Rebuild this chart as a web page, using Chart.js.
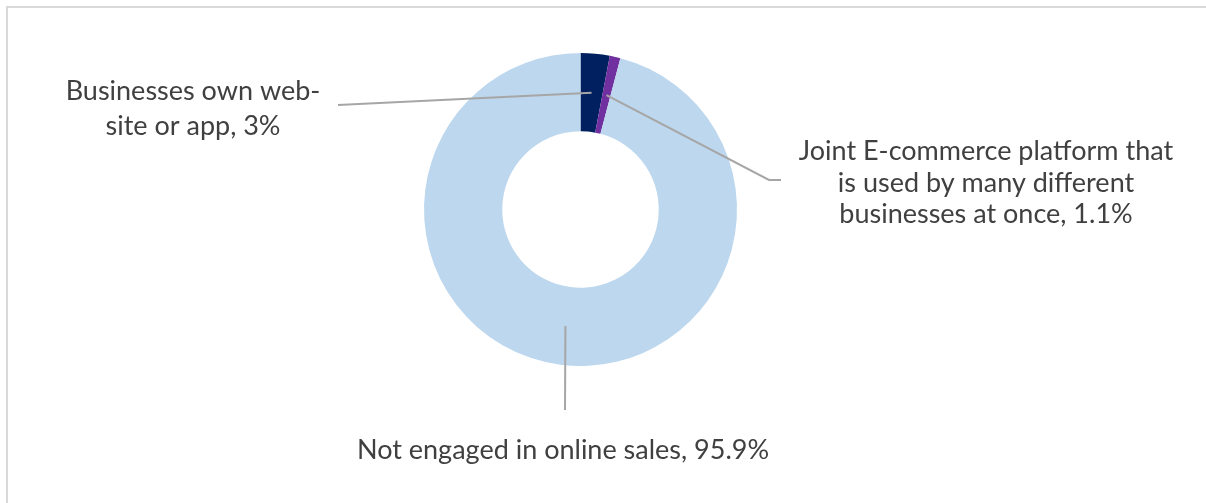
<!DOCTYPE html>
<html>
<head>
<meta charset="utf-8">
<script src="https://cdn.jsdelivr.net/npm/chart.js@4"></script>
<style>
  body { margin: 0; background: #fff; overflow: hidden; }
  #wrap { position: relative; width: 1206px; height: 503px; }
  #frame { position: absolute; left: 6px; top: 6px; width: 1300px; height: 600px; border: 2px solid #d9d9d9; }
  #myChart { position: absolute; left: 0; top: 0; }
</style>
</head>
<body>
<div id="wrap">
  <div id="frame"></div>
  <canvas id="myChart" width="1206" height="503"></canvas>
</div>
<script>
// дані
const categories = [
  "Businesses own web-site or app",
  "Joint E-commerce platform that is used by many different businesses at once",
  "Not engaged in online sales",
];
const shares = [3, 1.1, 95.9];
const shareLabels = ["3%", "1.1%", "95.9%"];
const labelLines = [
  ["Businesses own web-", "site or app, 3%"],
  ["Joint E-commerce platform that", "is used by many different", "businesses at once, 1.1%"],
  ["Not engaged in online sales, 95.9%"],
];
const sliceColors = ["#002060", "#7030a0", "#bdd7ee"];

// розташування підписів (центр тексту, базові лінії, кінці ліній-виносок)
const labelPlaces = [
  { x: 193, baselines: [100, 135], line: [[338, 105]] },
  { x: 986, baselines: [160, 192, 223], line: [[769, 180], [781, 180]] },
  { x: 563, baselines: [459], line: [[565, 410]] },
];

const leaderLabels = {
  id: "leaderLabels",
  afterDraw(chart) {
    const ctx = chart.ctx;
    const arcs = chart.getDatasetMeta(0).data;
    ctx.save();
    arcs.forEach((arc, i) => {
      const p = arc.getProps(["x", "y", "startAngle", "endAngle", "innerRadius", "outerRadius"], true);
      const mid = (p.startAngle + p.endAngle) / 2;
      const r = (p.innerRadius + p.outerRadius) / 2;
      const place = labelPlaces[i];
      ctx.beginPath();
      ctx.moveTo(p.x + Math.cos(mid) * r, p.y + Math.sin(mid) * r);
      place.line.forEach((pt) => ctx.lineTo(pt[0], pt[1]));
      ctx.strokeStyle = "#a6a6a6";
      ctx.lineWidth = 2;
      ctx.stroke();

      ctx.fillStyle = "#404040";
      ctx.font = "27px Lato";
      ctx.textAlign = "center";
      ctx.textBaseline = "alphabetic";
      labelLines[i].forEach((txt, j) => {
        ctx.fillText(txt, place.x, place.baselines[j]);
      });
    });
    ctx.restore();
  },
};

function main() {
  const ctx = document.getElementById("myChart").getContext("2d");
  new Chart(ctx, {
    type: "doughnut",
    data: {
      labels: categories,
      datasets: [
        {
          data: shares,
          backgroundColor: sliceColors,
          borderWidth: 0,
          hoverOffset: 0,
          offset: 0,
        },
      ],
    },
    options: {
      responsive: false,
      animation: false,
      cutout: "50%",
      layout: { padding: { left: 424, right: 469, top: 53, bottom: 137 } },
      plugins: {
        legend: { display: false },
        tooltip: { enabled: false },
      },
    },
    plugins: [leaderLabels],
  });
}

document.addEventListener("DOMContentLoaded", main);
</script>
</body>
</html>
